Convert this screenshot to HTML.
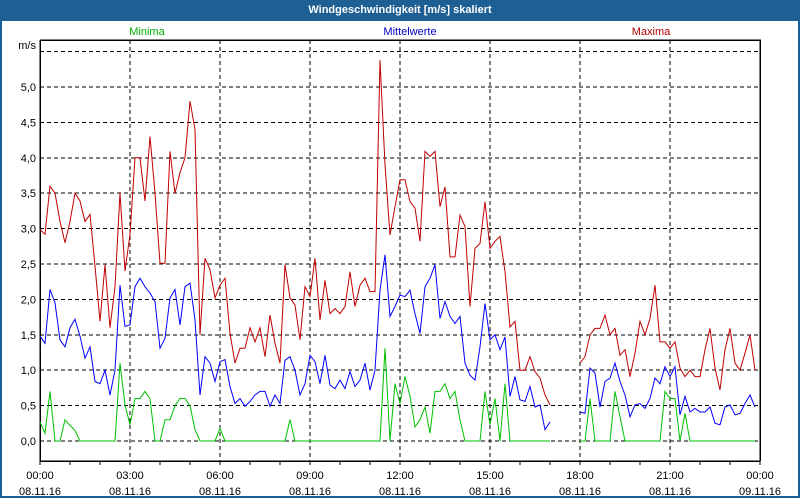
<!DOCTYPE html>
<html><head><meta charset="utf-8"><style>
body{margin:0;width:800px;height:500px;overflow:hidden;background:#fff;font-family:"Liberation Sans",sans-serif}
#frame{position:absolute;left:0;top:0;width:796px;height:496px;border:2px solid #1e5f94;border-top:none}
#title{position:absolute;left:0;top:0;width:800px;height:21px;background:#1e5f94;color:#fff;font-weight:bold;font-size:11px;text-align:center;line-height:21px}
svg{position:absolute;left:0;top:0}
</style></head><body>
<div id="frame"></div>
<div id="title">Windgeschwindigkeit [m/s] skaliert</div>
<svg id="c" width="800" height="500"></svg>
<script>
const yTicks=[0,0.5,1,1.5,2,2.5,3,3.5,4,4.5,5];
const xTickLabels=["00:00","03:00","06:00","09:00","12:00","15:00","18:00","21:00","00:00"];
const xDateLabels=["08.11.16","08.11.16","08.11.16","08.11.16","08.11.16","08.11.16","08.11.16","08.11.16","09.11.16"];
// segment 1 starts at 00:00, segment 2 at 18:00, 10-minute steps
const maxSeg1=[2.99,2.92,3.6,3.5,3.1,2.8,3.1,3.5,3.39,3.1,3.2,2.47,1.69,2.49,1.6,2.18,3.5,2.4,2.92,4.0,4.0,3.39,4.3,3.5,2.51,2.51,4.09,3.5,3.79,4.0,4.8,4.4,1.5,2.58,2.42,2.02,2.2,2.3,1.52,1.1,1.31,1.31,1.6,1.4,1.6,1.19,1.78,1.38,1.1,2.49,2.02,1.92,1.43,2.18,2.04,2.58,1.71,2.27,1.8,1.87,1.8,1.9,2.39,1.9,2.2,2.3,2.11,2.11,5.38,3.9,2.91,3.31,3.69,3.69,3.38,3.29,2.82,4.09,4.02,4.09,3.31,3.59,2.6,2.6,3.19,3.03,1.9,2.72,2.79,3.38,2.72,2.82,2.89,2.39,1.61,1.69,1.0,1.0,1.19,0.98,0.89,0.65,0.51];
const meanSeg1=[1.48,1.38,2.14,1.95,1.43,1.33,1.6,1.72,1.48,1.17,1.33,0.84,0.81,1.0,0.65,1.0,2.2,1.62,1.64,2.18,2.3,2.18,2.09,1.97,1.31,1.45,2.02,2.14,1.64,2.18,2.23,1.71,0.65,1.19,1.1,0.84,1.12,1.15,0.77,0.53,0.6,0.49,0.56,0.65,0.7,0.7,0.49,0.65,0.53,1.14,1.19,1.0,0.65,0.81,1.21,1.12,0.81,1.21,0.79,0.74,0.86,0.74,0.98,0.77,0.86,1.1,0.72,1.0,2.13,2.63,1.76,1.9,2.06,2.04,2.13,1.8,1.52,2.18,2.3,2.49,1.73,1.97,1.76,1.66,1.76,1.1,0.93,0.86,1.33,1.94,1.43,1.5,1.29,1.47,0.63,0.91,0.58,0.56,0.77,0.48,0.51,0.16,0.27];
const minSeg1=[0.27,0.11,0.7,0,0,0.3,0.22,0.15,0,0,0,0,0,0,0,0,1.1,0.51,0.23,0.6,0.6,0.7,0.6,0,0,0.3,0.3,0.5,0.6,0.6,0.5,0.16,0,0,0,0,0.18,0,0,0,0,0,0,0,0,0,0,0,0,0,0.3,0,0,0,0,0,0,0,0,0,0,0,0,0,0,0,0,0,0,1.31,0,0.81,0.53,0.91,0.63,0.2,0.3,0.48,0.11,0.7,0.7,0.81,0.6,0.7,0.3,0,0,0,0,0.7,0.23,0.6,0,0.81,0,0,0,0,0,0,0,0,0];
const maxSeg2=[1.1,1.19,1.5,1.59,1.59,1.78,1.5,1.59,1.21,1.29,0.91,1.24,1.69,1.5,1.73,2.2,1.4,1.4,1.31,1.4,1.03,0.91,1.0,0.91,0.91,1.29,1.59,1.03,0.72,1.29,1.59,1.1,1.0,1.24,1.5,1.0];
const meanSeg2=[0.41,0.39,1.03,0.96,0.48,0.84,0.89,1.1,0.84,0.65,0.34,0.51,0.53,0.46,0.6,0.89,0.81,1.05,0.91,1.05,0.37,0.63,0.41,0.46,0.41,0.41,0.48,0.25,0.23,0.48,0.51,0.37,0.39,0.53,0.65,0.48];
const minSeg2=[0,0,0.6,0,0,0,0,0.7,0.34,0,0,0,0,0,0,0,0,0.7,0.6,0.6,0,0.39,0,0,0,0,0,0,0,0,0,0,0,0,0,0];
const seg1Start=0, seg2Start=18, stepH=1/6;

const L=40,R=760,T=40,B=461;
const xS=h=>L+(R-L)*h/24;
const yS=v=>441-v*70.8;
const svg=document.getElementById('c');
const NS='http://www.w3.org/2000/svg';
function mk(t,a){const e=document.createElementNS(NS,t);for(const k in a)e.setAttribute(k,a[k]);svg.appendChild(e);return e;}
// grid
[...yTicks,5.5].forEach(v=>{const g=mk('line',{x1:L,x2:R,y1:yS(v),y2:yS(v),stroke:'#000','stroke-dasharray':'4,3','shape-rendering':'crispEdges'});

});
for(let h=3;h<24;h+=3){const g=mk('line',{x1:xS(h),x2:xS(h),y1:T,y2:B,stroke:'#000','stroke-dasharray':'4,3','shape-rendering':'crispEdges'});

}
// axes box
const ax=mk('path',{d:`M${L},${T}H${R}V${B}M${L},${T}V${B}H${R}`,stroke:'#000',fill:'none','stroke-width':1.5,'shape-rendering':'crispEdges'});


for(let h=0;h<=24;h++){const t=mk('line',{x1:xS(h),x2:xS(h),y1:B,y2:B+4,stroke:'#000','shape-rendering':'crispEdges'});

}
yTicks.forEach(v=>{const t=mk('text',{x:36,y:yS(v)+4,'text-anchor':'end','font-size':11,fill:'#000'});t.textContent=v.toFixed(1).replace('.',',');

});
const u=mk('text',{x:36,y:49,'text-anchor':'end','font-size':11});u.textContent='m/s';


xTickLabels.forEach((s,i)=>{const t=mk('text',{x:xS(i*3),y:479,'text-anchor':'middle','font-size':11});t.textContent=s;


const d=mk('text',{x:xS(i*3),y:495,'text-anchor':'middle','font-size':11});d.textContent=xDateLabels[i];

});
[['Minima',147,'#00b000','legend-minima'],['Mittelwerte',410,'#0000c0','legend-mittelwerte'],['Maxima',651,'#b00000','legend-maxima']].forEach(a=>{const t=mk('text',{x:a[1],y:35,'text-anchor':'middle','font-size':11,fill:a[2]});t.textContent=a[0];

});
function line(vals,start,col,name){const p=vals.map((v,i)=>(i?'L':'M')+xS(start+i*stepH).toFixed(1)+','+yS(v).toFixed(1)).join('');
const e=mk('path',{d:p,stroke:col,fill:'none','stroke-width':1});

}
line(minSeg1,seg1Start,'#00c000','minima-line-1');line(minSeg2,seg2Start,'#00c000','minima-line-2');
line(meanSeg1,seg1Start,'#0000ff','mean-line-1');line(meanSeg2,seg2Start,'#0000ff','mean-line-2');
line(maxSeg1,seg1Start,'#c00000','maxima-line-1');line(maxSeg2,seg2Start,'#c00000','maxima-line-2');
</script>
</body></html>
